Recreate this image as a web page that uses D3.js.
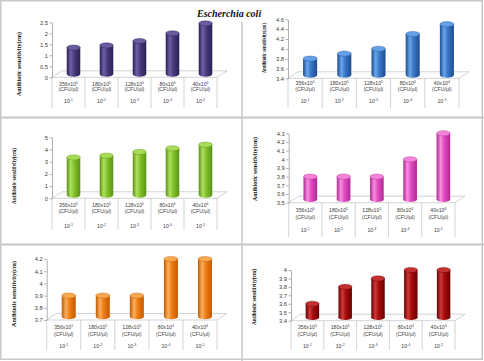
<!DOCTYPE html>
<html><head><meta charset="utf-8">
<script src="https://cdn.jsdelivr.net/npm/d3@7"></script>
<style>
html,body{margin:0;padding:0;background:#fff;}
svg{display:block;}
</style></head>
<body>
<svg id="c" width="484" height="361"></svg>
<script>
// ---------------- data ----------------
const categories = ["356x10⁵", "180x10⁵", "128x10⁵", "80x10⁴", "40x10⁴"];
const unitLabel = "(CFU/µl)";
const dilutions = ["10⁻¹", "10⁻²", "10⁻³", "10⁻⁴", "10⁻⁵"];
const chartTitle = ["Escherchia", "coli"];
const yTitle = "Antibiotic sensitivity(cm)";

const valuesPurple = [1.35, 1.45, 1.65, 2.0, 2.45];
const valuesBlue   = [3.8, 3.9, 4.0, 4.3, 4.5];
const valuesGreen  = [3.35, 3.5, 3.8, 4.1, 4.4];
const valuesPink   = [3.8, 3.8, 3.8, 4.0, 4.3];
const valuesOrange = [3.9, 3.9, 3.9, 4.2, 4.2];
const valuesRed    = [3.6, 3.8, 3.9, 4.0, 4.0];

const ticksPurple = [0, 0.5, 1, 1.5, 2, 2.5];
const ticksBlue   = [3.4, 3.6, 3.8, 4, 4.2, 4.4, 4.6];
const ticksGreen  = [0, 1, 2, 3, 4, 5];
const ticksPink   = [3.5, 3.6, 3.7, 3.8, 3.9, 4, 4.1, 4.2, 4.3];
const ticksOrange = [3.7, 3.8, 3.9, 4, 4.1, 4.2];
const ticksRed    = [3.4, 3.5, 3.6, 3.7, 3.8, 3.9, 4];

// ---------------- layout / style ----------------
const panels = [
  {values: valuesPurple, ticks: ticksPurple, x0: 52, x1: 217, yBase: 77.3, yTop: 22.3,
   tableBottom: 108, l1: 84, l2: 89.5, l3: 101, titleX: 20, titleY: 64, titleLen: 64, titleFs: 6,
   base: "#4a3b7e", dark: "#2a1f52", light: "#7061a8", top: "#6a5ba0"},
  {values: valuesBlue, ticks: ticksBlue, x0: 288, x1: 459, yBase: 78.3, yTop: 19.3,
   tableBottom: 108, l1: 83, l2: 89.5, l3: 101, titleX: 265, titleY: 48, titleLen: 50, titleFs: 5.5,
   base: "#3a78c8", dark: "#1d4b90", light: "#6aa6ea", top: "#64a0e6"},
  {values: valuesGreen, ticks: ticksGreen, x0: 52, x1: 217, yBase: 198.3, yTop: 137.3,
   tableBottom: 230, l1: 205, l2: 211, l3: 226, titleX: 15, titleY: 176, titleLen: 56, titleFs: 6.5,
   base: "#82c22c", dark: "#5a9214", light: "#b0e060", top: "#a8dc58"},
  {values: valuesPink, ticks: ticksPink, x0: 288.7, x1: 455, yBase: 202.7, yTop: 133.3,
   tableBottom: 237, l1: 210, l2: 217, l3: 230, titleX: 256, titleY: 169, titleLen: 64, titleFs: 6.5,
   base: "#e24ec4", dark: "#b02892", light: "#f590de", top: "#f284da"},
  {values: valuesOrange, ticks: ticksOrange, x0: 46.7, x1: 217, yBase: 320, yTop: 259,
   tableBottom: 350, l1: 327, l2: 334, l3: 346, titleX: 15, titleY: 294, titleLen: 66, titleFs: 6.5,
   base: "#f07e14", dark: "#c25800", light: "#f9b060", top: "#f7a850"},
  {values: valuesRed, ticks: ticksRed, x0: 291, x1: 455, yBase: 320.7, yTop: 270,
   tableBottom: 350, l1: 327, l2: 334, l3: 346, titleX: 255, titleY: 297, titleLen: 56, titleFs: 5.5,
   base: "#a60c0c", dark: "#6a0000", light: "#cc3a3a", top: "#c43030"}
];

const depthX = 10, depthY = 6.5;
const svg = d3.select("#c");
const defs = svg.append("defs");

// write a label, turning unicode superscripts into raised tspans
const supMap = {"⁰":"0","¹":"1","²":"2","³":"3","⁴":"4","⁵":"5","⁶":"6","⁷":"7","⁸":"8","⁹":"9","⁻":"-"};
function richText(textSel, str) {
  const runs = [];
  for (const ch of str) {
    const sup = ch in supMap;
    const c = sup ? supMap[ch] : ch;
    if (runs.length && runs[runs.length - 1].sup === sup) runs[runs.length - 1].t += c;
    else runs.push({sup, t: c});
  }
  let raised = false;
  runs.forEach(r => {
    const ts = textSel.append("tspan").text(r.t);
    if (r.sup) { ts.attr("dy", -1.8).attr("font-size", "0.68em"); raised = true; }
    else if (raised) { ts.attr("dy", 1.8); raised = false; }
  });
}

// panel frame lines
const frame = svg.append("g").attr("stroke", "#c8c8c8").attr("fill", "none");
frame.append("rect").attr("x", 0.75).attr("y", 0.75).attr("width", 481.5).attr("height", 358.5).attr("stroke-width", 1.5);
frame.append("line").attr("x1", 242).attr("x2", 242).attr("y1", 22).attr("y2", 361).attr("stroke-width", 1.5);
frame.append("line").attr("x1", 0).attr("x2", 484).attr("y1", 117.5).attr("y2", 117.5).attr("stroke-width", 2);
frame.append("line").attr("x1", 0).attr("x2", 484).attr("y1", 244.5).attr("y2", 244.5).attr("stroke-width", 2);

panels.forEach((p, pi) => {
  const g = svg.append("g");
  const y = d3.scaleLinear().domain([p.ticks[0], p.ticks[p.ticks.length - 1]]).range([p.yBase, p.yTop]);
  const x = d3.scaleBand().domain(categories).range([p.x0, p.x1]).paddingInner(0).paddingOuter(0);
  const bw = x.bandwidth();
  const barW = bw * 0.41;

  // floor
  const fl = [[p.x0, p.yBase], [p.x1, p.yBase], [p.x1 + depthX, p.yBase - depthY], [p.x0 + depthX, p.yBase - depthY]];
  g.append("path").attr("d", d3.line()(fl) + "Z").attr("fill", "#fff").attr("stroke", "#c8c8c8").attr("stroke-width", 0.8);

  // category table verticals
  const edges = categories.map(c => x(c)).concat([p.x1]);
  g.selectAll("line.tbl").data(edges).join("line")
    .attr("x1", d => d).attr("x2", d => d).attr("y1", p.yBase).attr("y2", p.tableBottom)
    .attr("stroke", "#c8c8c8").attr("stroke-width", 0.8);

  // y axis
  const ax = g.append("g").attr("transform", `translate(${p.x0},0)`)
    .call(d3.axisLeft(y).tickValues(p.ticks).tickSize(2.5).tickSizeOuter(0).tickFormat(d3.format("~g")));
  ax.select(".domain").attr("stroke", "#9a9a9a").attr("stroke-width", 0.8);
  ax.selectAll(".tick line").attr("stroke", "#9a9a9a").attr("stroke-width", 0.8);
  ax.selectAll(".tick text").attr("font-family", "Liberation Sans, Arial, sans-serif")
    .attr("font-size", 5.8).attr("fill", "#404040").attr("x", -4);

  // gradient
  const gid = "grad" + pi;
  const lg = defs.append("linearGradient").attr("id", gid).attr("x1", "0").attr("x2", "1").attr("y1", "0").attr("y2", "0");
  [[0, p.dark], [0.3, p.light], [0.55, p.base], [1, p.dark]].forEach(s =>
    lg.append("stop").attr("offset", s[0]).attr("stop-color", s[1]));

  // bars (cylinders)
  const ry = 2.6;
  const bottomY = p.yBase - depthY / 2;
  const bars = g.selectAll("g.bar").data(p.values).join("g").attr("class", "bar");
  bars.append("ellipse")
    .attr("cx", (d, i) => x(categories[i]) + bw / 2 + depthX / 2)
    .attr("cy", bottomY).attr("rx", barW / 2).attr("ry", ry).attr("fill", `url(#${gid})`);
  bars.append("rect")
    .attr("x", (d, i) => x(categories[i]) + bw / 2 + depthX / 2 - barW / 2)
    .attr("y", d => y(d)).attr("width", barW).attr("height", d => bottomY - y(d))
    .attr("fill", `url(#${gid})`);
  bars.append("ellipse")
    .attr("cx", (d, i) => x(categories[i]) + bw / 2 + depthX / 2)
    .attr("cy", d => y(d)).attr("rx", barW / 2).attr("ry", ry)
    .attr("fill", p.top).attr("stroke", p.dark).attr("stroke-width", 0.4);

  // category labels
  const lab = g.append("g").attr("font-family", "Liberation Sans, Arial, sans-serif")
    .attr("font-size", 5.2).attr("fill", "#404040").attr("text-anchor", "middle");
  lab.selectAll("text.c1").data(categories).join("text").attr("class", "c1")
    .attr("x", d => x(d) + bw / 2).attr("y", p.l1 + 1.9).each(function(d) { richText(d3.select(this), d); });
  lab.selectAll("text.c2").data(categories).join("text").attr("class", "c2")
    .attr("x", d => x(d) + bw / 2).attr("y", p.l2 + 1.9).text(unitLabel);
  lab.selectAll("text.c3").data(dilutions).join("text").attr("class", "c3")
    .attr("x", (d, i) => x(categories[i]) + bw / 2).attr("y", p.l3 + 1.9).each(function(d) { richText(d3.select(this), d); });

  // y title
  g.append("text").attr("transform", `translate(${p.titleX},${p.titleY}) rotate(-90)`)
    .attr("text-anchor", "middle").attr("dominant-baseline", "middle")
    .attr("font-family", "Liberation Serif, Times New Roman, serif").attr("font-weight", "bold")
    .attr("font-size", p.titleFs).attr("textLength", p.titleLen).attr("lengthAdjust", "spacingAndGlyphs")
    .attr("fill", "#111").text(yTitle);
});

// main title
svg.append("text").attr("x", 197).attr("y", 16.5)
  .attr("font-family", "Liberation Serif, Times New Roman, serif").attr("font-weight", "bold")
  .attr("font-style", "italic").attr("font-size", 10).attr("fill", "#111")
  .text(chartTitle.join(" "));
</script>
</body></html>
